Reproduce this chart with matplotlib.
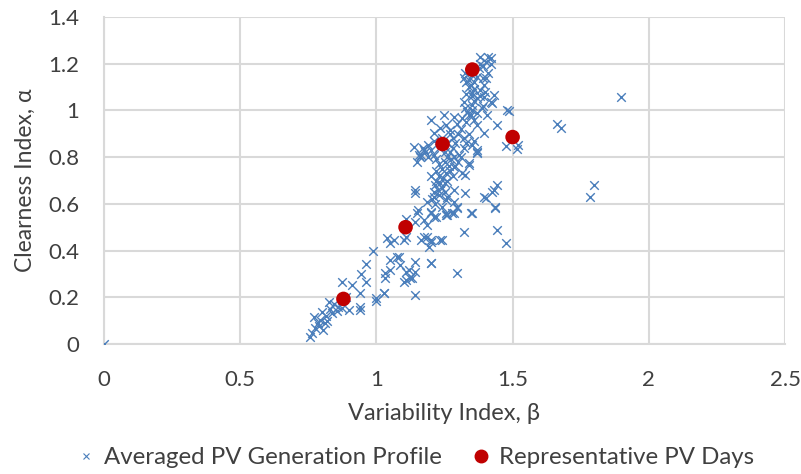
import matplotlib
matplotlib.use("Agg")
import matplotlib.pyplot as plt
from matplotlib.lines import Line2D

plt.rcParams['font.family'] = ['Lato', 'DejaVu Sans']

# Averaged PV generation profile (beta, alpha)
avg_x = [0.0,
    0.757, 0.765, 0.776, 0.788, 0.77, 0.794, 0.804, 0.80, 0.81, 0.815, 0.825, 0.837, 0.843, 0.855,
    0.874, 0.874, 0.90, 0.911, 0.939, 0.941, 0.939, 0.944, 0.96, 0.963, 0.988, 0.82, 0.785, 0.83, 0.86, 0.89,
    1.0, 1.0, 1.029, 1.027, 1.033, 1.033, 1.051, 1.051, 1.076, 1.082, 1.088, 1.107, 1.10, 1.107, 1.119,
    1.125, 1.131, 1.143, 1.143, 1.143, 1.039, 1.064, 1.051, 1.10, 1.107, 1.107, 1.143, 1.149, 1.153,
    1.141, 1.14, 1.162, 1.174, 1.174, 1.186, 1.186, 1.186, 1.192, 1.199, 1.199, 1.199, 1.199, 1.199,
    1.199, 1.211, 1.211, 1.217, 1.235, 1.241, 1.254, 1.254, 1.26, 1.278, 1.284, 1.284, 1.297, 1.297,
    1.321, 1.327, 1.346, 1.352, 1.394, 1.425, 1.431, 1.437, 1.444, 1.444, 1.474, 1.401, 1.437, 1.241,
    1.254, 1.284, 1.297,
    1.205, 1.21, 1.215, 1.22, 1.225, 1.23, 1.22, 1.235, 1.24, 1.245, 1.25, 1.23, 1.255, 1.26, 1.265,
    1.27, 1.275, 1.28, 1.285, 1.29, 1.22, 1.21, 1.2, 1.19, 1.18, 1.17, 1.16, 1.174, 1.156, 1.162,
    1.137, 1.15, 1.19, 1.21, 1.23, 1.25, 1.24, 1.26, 1.27, 1.28, 1.23, 1.24, 1.25, 1.26, 1.27,
    1.28, 1.29, 1.3, 1.2, 1.215, 1.25, 1.26,
    1.3, 1.31, 1.315, 1.297, 1.32, 1.33, 1.327, 1.34, 1.346, 1.35, 1.352, 1.36, 1.37, 1.352, 1.36,
    1.382, 1.346, 1.394, 1.321, 1.327, 1.37, 1.401, 1.34, 1.35, 1.36, 1.375, 1.38, 1.39, 1.382, 1.401,
    1.419, 1.41, 1.33, 1.36, 1.39, 1.41, 1.42, 1.34, 1.38, 1.4, 1.419, 1.431, 1.425, 1.394, 1.388,
    1.407, 1.37, 1.394, 1.444, 1.48, 1.254, 1.235, 1.272, 1.211, 1.199, 1.248, 1.284, 1.321, 1.333,
    1.37, 1.368, 1.34, 1.327, 1.303, 1.284, 1.315, 1.34, 1.37, 1.36, 1.35, 1.32, 1.31, 1.33, 1.34,
    1.36, 1.37, 1.39, 1.35, 1.33,
    1.897, 1.664, 1.676, 1.797, 1.783, 1.486, 1.474, 1.517, 1.52]
avg_y = [0.0,
    0.031, 0.045, 0.067, 0.077, 0.117, 0.103, 0.06, 0.138, 0.09, 0.12, 0.181, 0.131, 0.171, 0.143,
    0.153, 0.267, 0.146, 0.253, 0.22, 0.16, 0.146, 0.298, 0.342, 0.267, 0.398, 0.10, 0.09, 0.15, 0.16, 0.20,
    0.184, 0.196, 0.22, 0.217, 0.281, 0.303, 0.317, 0.36, 0.371, 0.374, 0.338, 0.274, 0.267, 0.31, 0.317,
    0.281, 0.281, 0.31, 0.352, 0.21, 0.452, 0.445, 0.431, 0.445, 0.459, 0.534, 0.524, 0.559, 0.574,
    0.648, 0.66, 0.445, 0.459, 0.531, 0.509, 0.609, 0.459, 0.414, 0.438, 0.445, 0.345, 0.348, 0.559,
    0.566, 0.545, 0.63, 0.545, 0.445, 0.445, 0.552, 0.562, 0.552, 0.562, 0.559, 0.659, 0.305, 0.588,
    0.481, 0.645, 0.562, 0.562, 0.628, 0.652, 0.659, 0.581, 0.681, 0.488, 0.431, 0.624, 0.588, 0.588,
    0.616, 0.609, 0.581,
    0.62, 0.65, 0.68, 0.70, 0.66, 0.72, 0.74, 0.69, 0.75, 0.71, 0.78, 0.77, 0.73, 0.80, 0.76,
    0.82, 0.79, 0.84, 0.80, 0.86, 0.79, 0.81, 0.83, 0.80, 0.82, 0.84, 0.80, 0.83, 0.809, 0.809,
    0.845, 0.78, 0.85, 0.87, 0.84, 0.82, 0.88, 0.86, 0.90, 0.88, 0.64, 0.67, 0.69, 0.70, 0.74,
    0.72, 0.76, 0.78, 0.72, 0.60, 0.65, 0.63,
    0.90, 0.92, 0.966, 0.944, 0.88, 0.95, 1.009, 0.98, 0.98, 1.0, 1.023, 1.04, 1.052, 1.073, 1.09,
    1.087, 1.109, 1.109, 1.137, 1.159, 1.145, 1.137, 1.13, 1.15, 1.16, 1.18, 1.20, 1.19, 1.23, 1.209,
    1.223, 1.23, 1.12, 1.12, 1.14, 1.16, 1.20, 1.10, 1.06, 1.08, 1.037, 1.066, 1.03, 1.059, 1.009,
    0.98, 0.937, 0.902, 0.937, 1.002, 0.937, 0.923, 0.916, 0.902, 0.959, 0.98, 0.973, 1.037, 0.994,
    0.83, 0.816, 0.766, 0.723, 0.809, 0.759, 0.73, 0.773, 0.823, 0.87, 0.85, 0.84, 0.80, 0.86, 0.90,
    0.96, 0.99, 1.02, 1.06, 1.07,
    1.056, 0.944, 0.923, 0.681, 0.631, 0.997, 0.848, 0.837, 0.85]

# Representative PV days
rep_x = [0.879, 1.107, 1.243, 1.352, 1.50]
rep_y = [0.193, 0.50, 0.856, 1.175, 0.886]

x_ticks = [0, 0.5, 1, 1.5, 2, 2.5]
x_tick_labels = ['0', '0.5', '1', '1.5', '2', '2.5']
y_ticks = [0, 0.2, 0.4, 0.6, 0.8, 1.0, 1.2, 1.4]
y_tick_labels = ['0', '0.2', '0.4', '0.6', '0.8', '1', '1.2', '1.4']

blue = '#4a7ebb'
red = '#c00000'
grid_c = '#d9d9d9'
text_c = '#404040'
fs = 16

fig = plt.figure(figsize=(8.01, 4.74), dpi=100)
ax = fig.add_axes([104/801, 1 - 344/474, (785-104)/801, (344-17)/474])

ax.scatter(avg_x, avg_y, marker='x', s=38, color=blue, linewidths=1.0, zorder=3)
ax.scatter(rep_x, rep_y, marker='o', s=110, color=red, edgecolors='none', zorder=4)

ax.set_xlim(0, 2.5)
ax.set_ylim(0, 1.4)
ax.set_xticks(x_ticks)
ax.set_xticklabels(x_tick_labels)
ax.set_yticks(y_ticks)
ax.set_yticklabels(y_tick_labels)
ax.grid(True, color=grid_c, linewidth=1.5, zorder=0)
ax.set_axisbelow(True)
for s in ['top', 'right']:
    ax.spines[s].set_visible(False)
for s in ['left', 'bottom']:
    ax.spines[s].set_color(grid_c)
    ax.spines[s].set_linewidth(1.5)
ax.tick_params(axis='x', length=0, labelsize=fs, colors=text_c, pad=19)
ax.tick_params(axis='y', length=0, labelsize=fs, colors=text_c, pad=18)

ax.set_xlabel('Variability Index, β', fontsize=17, color=text_c, labelpad=9)
ax.set_ylabel('Clearness Index, α', fontsize=16.5, color=text_c, labelpad=9)

handles = [Line2D([], [], marker='x', color=blue, linestyle='none', markersize=5, markeredgewidth=0.8),
           Line2D([], [], marker='o', color=red, linestyle='none', markersize=9)]
fig.legend(handles, ['Averaged PV Generation Profile', 'Representative PV Days'],
           loc='center', bbox_to_anchor=(414/801, 1 - 458/474), ncol=2, frameon=False,
           fontsize=17.3, handletextpad=0.25, columnspacing=1.1, labelcolor=text_c, handlelength=1.0)

fig.savefig('out.png', dpi=100)
